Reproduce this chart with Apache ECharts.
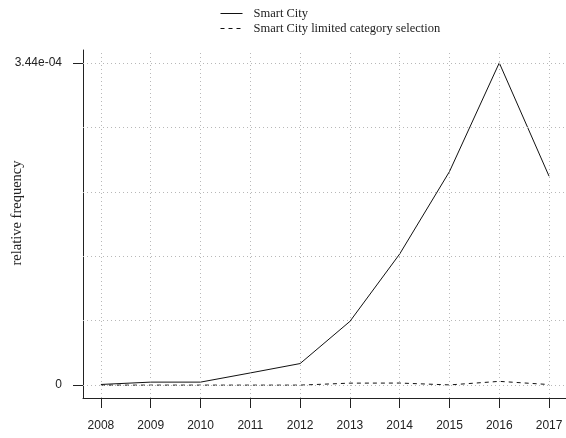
<!DOCTYPE html>
<html>
<head>
<meta charset="utf-8">
<script src="https://cdn.jsdelivr.net/npm/echarts@6/dist/echarts.min.js"></script>
<style>
  html, body { margin: 0; padding: 0; background: #fff; }
  #chart { width: 566px; height: 438px; }
</style>
</head>
<body>
<div id="chart"></div>
<script>
// Yearly relative frequency of the term "Smart City"
const years = [2008, 2009, 2010, 2011, 2012, 2013, 2014, 2015, 2016, 2017];
const smartCity = [0.7e-6, 3.2e-6, 3.2e-6, 1.3e-5, 2.3e-5, 6.8e-5, 1.40e-4, 2.28e-4, 3.44e-4, 2.23e-4];
const smartCityLimited = [0, 0, 0, 0, 0, 2.1e-6, 2.2e-6, 0.2e-6, 4.0e-6, 0.6e-6];
const seriesNames = ['Smart City', 'Smart City limited category selection'];
const yTickValues = [0, 3.44e-4];
const yTickLabels = ['0', '3.44e-04'];
const yAxisTitle = 'relative frequency';

// Axis ranges padded by 4% on each side
const yMaxTick = yTickValues[yTickValues.length - 1];
const yPad = yMaxTick * 0.04;
const xPad = (years[years.length - 1] - years[0]) * 0.04;
const xMin = years[0] - xPad;
const xMax = years[years.length - 1] + xPad;
const yMin = -yPad;
const yMax = yMaxTick + yPad;
// Horizontal grid: five equal bands between the two labelled ticks
const yGridLines = [0, 1, 2, 3, 4, 5].map(i => yMaxTick * i / 5);

const serif = 'Liberation Serif';
const sans = 'Liberation Sans';
const gridStyle = { color: '#b8b8b8', width: 1, type: [1, 3] };

const gridSegments = years.map(y => [{ coord: [y, yMin] }, { coord: [y, yMax] }])
  .concat(yGridLines.map(v => [{ coord: [xMin, v] }, { coord: [xMax, v] }]));

const chart = echarts.init(document.getElementById('chart'), null, { renderer: 'canvas' });
chart.setOption({
  animation: false,
  backgroundColor: '#fff',
  textStyle: { fontFamily: serif },
  grid: { left: 83, top: 50, right: -1, bottom: 40, containLabel: false, outerBoundsMode: 'none' },
  legend: {
    orient: 'vertical',
    left: 215, top: 2,
    itemWidth: 22, itemHeight: 10, itemGap: 2,
    itemStyle: { opacity: 0 },
    lineStyle: { width: 1 },
    textStyle: { fontFamily: serif, fontSize: 12.5, color: '#222', padding: [0, 0, 0, 6] },
    data: seriesNames
  },
  xAxis: {
    type: 'value',
    min: xMin,
    max: xMax,
    axisLine: { onZero: false, lineStyle: { color: '#222', width: 1 } },
    axisTick: { customValues: years, length: 10, lineStyle: { color: '#222' } },
    axisLabel: {
      customValues: years, margin: 22, fontFamily: sans, fontSize: 12, color: '#222',
      formatter: v => String(v)
    },
    splitLine: { show: false }
  },
  yAxis: {
    type: 'value',
    min: yMin,
    max: yMax,
    name: yAxisTitle,
    nameLocation: 'middle',
    nameGap: 58,
    nameMoveOverlap: false,
    nameTextStyle: { fontFamily: serif, fontSize: 14.5, color: '#222', padding: [0, 0, 0, 22] },
    axisLine: { show: true, onZero: false, lineStyle: { color: '#222', width: 1 } },
    axisTick: { customValues: yTickValues, length: 10, lineStyle: { color: '#222' } },
    axisLabel: {
      customValues: yTickValues, margin: 21, fontFamily: sans, fontSize: 12, color: '#222',
      formatter: v => yTickLabels[yTickValues.indexOf(v)]
    },
    splitLine: { show: false }
  },
  series: [
    {
      name: 'grid',
      type: 'line',
      data: [],
      z: 1,
      silent: true,
      markLine: {
        silent: true,
        symbol: ['none', 'none'],
        label: { show: false },
        lineStyle: gridStyle,
        emphasis: { disabled: true },
        data: gridSegments
      }
    },
    {
      name: seriesNames[0],
      type: 'line',
      z: 3,
      data: years.map((y, i) => [y, smartCity[i]]),
      symbol: 'none',
      lineStyle: { color: '#111', width: 1, type: 'solid' },
      itemStyle: { color: '#111' }
    },
    {
      name: seriesNames[1],
      type: 'line',
      z: 3,
      data: years.map((y, i) => [y, smartCityLimited[i]]),
      symbol: 'none',
      lineStyle: { color: '#111', width: 1, type: [4, 4] },
      itemStyle: { color: '#111' }
    }
  ]
});
</script>
</body>
</html>
